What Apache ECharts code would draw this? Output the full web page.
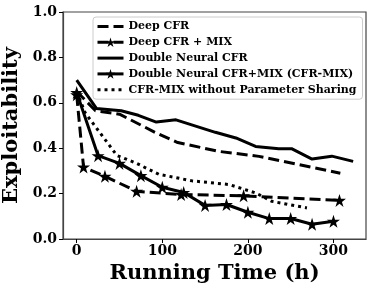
<!DOCTYPE html>
<html><head><meta charset="utf-8">
<script src="https://cdn.jsdelivr.net/npm/echarts@6/dist/echarts.min.js"></script>
<style>html,body{margin:0;padding:0;background:#fff}#c{width:374px;height:291px}</style>
</head><body><div id="c"></div>
<script>
// Data
const seriesNames = ["Deep CFR", "Deep CFR + MIX", "Double Neural CFR", "Double Neural CFR+MIX (CFR-MIX)", "CFR-MIX without Parameter Sharing"];
const deepCfrX = [0, 22, 50, 93, 118, 166, 213, 308];
const deepCfrY = [0.65, 0.565, 0.55, 0.467, 0.425, 0.386, 0.364, 0.29];
const deepCfrMixX = [0, 8, 33, 70, 122, 195, 307];
const deepCfrMixY = [0.635, 0.317, 0.276, 0.21, 0.196, 0.19, 0.17];
const doubleNeuralX = [0, 23, 52, 72, 93, 116, 162, 186, 209, 236, 251, 275, 298, 323];
const doubleNeuralY = [0.70, 0.575, 0.565, 0.545, 0.515, 0.525, 0.47, 0.445, 0.408, 0.398, 0.398, 0.352, 0.365, 0.342];
const cfrMixX = [0, 25, 50, 75, 100, 125, 150, 175, 200, 225, 250, 275, 300];
const cfrMixY = [0.645, 0.367, 0.333, 0.279, 0.228, 0.205, 0.148, 0.152, 0.118, 0.09, 0.09, 0.065, 0.078];
const noShareX = [0, 10, 47, 69, 96, 135, 178, 209, 228, 269];
const noShareY = [0.65, 0.555, 0.368, 0.335, 0.285, 0.256, 0.24, 0.203, 0.166, 0.137];
const xTicks = [0, 100, 200, 300];
const yTicks = [0, 0.2, 0.4, 0.6, 0.8, 1.0];

const pair = (xs, ys) => xs.map((x, i) => [x, ys[i]]);
const STAR = 'path://M50,0 L61.2,34.5 L97.6,34.5 L68.2,55.9 L79.4,90.5 L50,69.1 L20.6,90.5 L31.8,55.9 L2.4,34.5 L38.8,34.5 Z';
const FONT = 'DejaVu Serif';
const LW = 3;
const DASH = [11, 5];
const DOT = [3, 4];
const styles = [
  { dash: DASH, star: false },
  { dash: DASH, star: true },
  { dash: 'solid', star: false },
  { dash: 'solid', star: true },
  { dash: DOT, star: false }
];

function mk(i, data) {
  const s = styles[i];
  return {
    name: seriesNames[i], type: 'line', data,
    symbol: STAR, symbolSize: 13, showSymbol: s.star,
    itemStyle: { color: '#000', borderWidth: 0 },
    lineStyle: { color: '#000', width: LW, type: s.dash, cap: 'butt', join: 'round' },
    emphasis: { disabled: true },
    animation: false, z: 3
  };
}

const chart = echarts.init(document.getElementById('c'), null, { renderer: 'canvas' });
chart.setOption({
  backgroundColor: '#fff',
  animation: false,
  grid: { left: 63, right: 8, top: 12, bottom: 52, containLabel: false, outerBoundsMode: 'none',
    show: true, borderColor: '#444', borderWidth: 1.2, backgroundColor: 'transparent' },
  legend: {
    left: 93, top: 17, orient: 'vertical',
    itemWidth: 26, itemHeight: 12, itemGap: 4.8,
    padding: [4, 6, 4, 3],
    borderColor: '#ccc', borderWidth: 1, borderRadius: 3,
    backgroundColor: 'rgba(255,255,255,0.85)',
    textStyle: { fontFamily: FONT, fontWeight: 'bold', fontSize: 11, color: '#000' },
    data: seriesNames.map((n, i) => ({
      name: n,
      itemStyle: styles[i].star ? { color: '#000', opacity: 1 } : { opacity: 0 },
      lineStyle: { color: '#000', width: LW, type: styles[i].dash, cap: 'butt' }
    }))
  },
  xAxis: {
    type: 'value', min: -16, max: 338,
    splitLine: { show: false },
    axisLine: { show: true, onZero: false, lineStyle: { color: '#444', width: 1.2 } },
    axisTick: { show: true, length: 4, customValues: xTicks, lineStyle: { color: '#000', width: 1 } },
    axisLabel: { customValues: xTicks, fontFamily: FONT, fontWeight: 'bold', fontSize: 14, color: '#000', margin: 5 },
    name: 'Running Time (h)', nameLocation: 'middle', nameGap: 22,
    nameTextStyle: { fontFamily: FONT, fontWeight: 'bold', fontSize: 21, color: '#000', verticalAlign: 'top' }
  },
  yAxis: {
    type: 'value', min: 0, max: 1.0,
    splitLine: { show: false },
    axisLine: { show: true, onZero: false, lineStyle: { color: '#444', width: 1.2 } },
    axisTick: { show: true, length: 4, customValues: yTicks, lineStyle: { color: '#000', width: 1 } },
    axisLabel: { customValues: yTicks, fontFamily: FONT, fontWeight: 'bold', fontSize: 14, color: '#000', margin: 6,
      formatter: v => v.toFixed(1) },
    name: 'Exploitability', nameLocation: 'middle', nameGap: 39, nameRotate: 90,
    nameTextStyle: { fontFamily: FONT, fontWeight: 'bold', fontSize: 21, color: '#000' }
  },
  series: [
    mk(0, pair(deepCfrX, deepCfrY)),
    mk(1, pair(deepCfrMixX, deepCfrMixY)),
    mk(2, pair(doubleNeuralX, doubleNeuralY)),
    mk(3, pair(cfrMixX, cfrMixY)),
    mk(4, pair(noShareX, noShareY))
  ]
});
</script></body></html>
